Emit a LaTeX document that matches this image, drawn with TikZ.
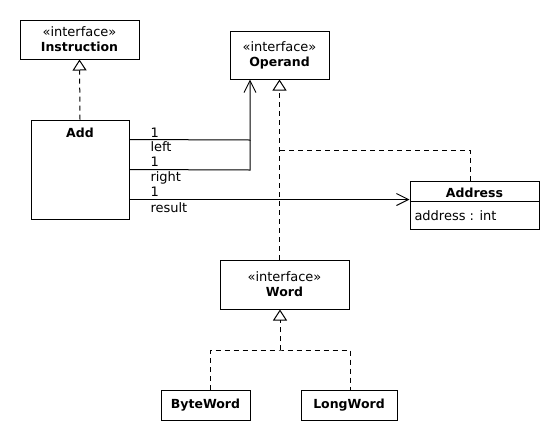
\documentclass[tikz,border=0pt]{standalone}
\usepackage{fontspec}
\setmainfont{DejaVu Sans}
\usetikzlibrary{arrows.meta}
\newcommand{\bt}[1]{{\fontsize{12.5}{15}\selectfont\bfseries #1}}
\begin{document}
\begin{tikzpicture}[x=1pt,y=-1pt,line width=1pt,
  every node/.style={font=\fontsize{13}{15}\selectfont},
  box/.style={draw,inner sep=0pt,align=center},
  real/.style={dash pattern=on 5pt off 4pt,-{Triangle[open,width=14pt,length=11pt,line width=1pt]}},
  dsh/.style={dash pattern=on 5pt off 4pt},
  assoc/.style={-{Straight Barb[length=12pt,width=12pt,line width=1pt]}},
  lbl/.style={anchor=base west,inner sep=0pt}]
\useasboundingbox (0,0) rectangle (560,440);
\node[box,minimum width=119pt,minimum height=39pt] (instr) at (79.5,39.5) {«interface»\\\bt{Instruction}};
\node[box,minimum width=99pt,minimum height=48pt] (operand) at (279.5,55) {«interface»\\\bt{Operand}};
\node[box,minimum width=98pt,minimum height=99pt] (add) at (80,169.5) {};
\node[anchor=base,inner sep=0pt] (addt) at (80,137) {\bt{Add}};
\node[box,minimum width=129pt,minimum height=48pt] (addr) at (474.5,205) {};
\node[anchor=base,inner sep=0pt] (addrt) at (474.5,197) {\bt{Address}};
\node[anchor=base west,inner sep=0pt] (addra) at (414,220) {address : int};
\draw ([yshift=-21pt]addr.north west) -- ([yshift=-21pt]addr.north east);
\node[box,minimum width=129pt,minimum height=49pt] (word) at (284.5,284.5) {«interface»\\\bt{Word}};
\node[box,minimum width=89pt,minimum height=30pt] (byte) at (205.5,405) {\bt{ByteWord}};
\node[box,minimum width=96pt,minimum height=30pt] (long) at (349,405) {\bt{LongWord}};
% realizations
\draw[real] (add.north) -- (instr.south);
\draw[real] (word.north -| operand.south) -- (operand.south);
\coordinate (ja) at (280,150);
\draw[dsh] (ja) -| ([xshift=-4.5pt]addr.north);
\coordinate (jw) at (280,350);
\coordinate (wt) at (280,309.5);
\draw[real] (jw) -- (wt);
\draw[dsh] ([xshift=4.5pt]byte.north) |- (jw) -| ([xshift=1pt]long.north);
% associations
\coordinate (j1) at (250,140);
\coordinate (j2) at (250,170);
\draw[assoc] ([yshift=-20pt]add.north east) -- (j1) -- (j1 |- operand.south);
\draw ([yshift=-50pt]add.north east) -- (j2) -- (j1);
\draw[assoc] ([yshift=-80pt]add.north east) -- ([yshift=-80pt]add.north east -| addr.west);
\node[lbl] (m1) at (150,137) {1};
\node[lbl] (r1) at (150,151) {left};
\node[lbl] (m2) at (150,166) {1};
\node[lbl] (r2) at (150,181) {right};
\node[lbl] (m3) at (150,196) {1};
\node[lbl] (r3) at (150,212) {result};
\end{tikzpicture}
\end{document}
